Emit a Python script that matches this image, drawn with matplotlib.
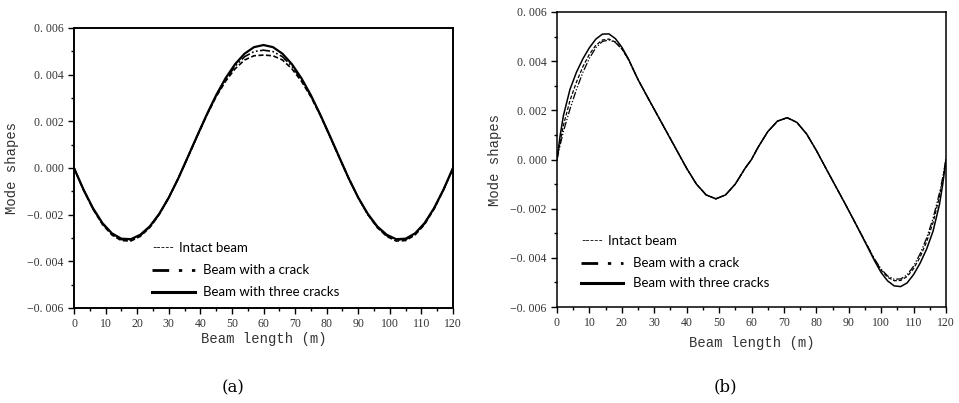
import matplotlib
matplotlib.use('Agg')
import matplotlib.pyplot as plt
from matplotlib.lines import Line2D
from matplotlib.ticker import MultipleLocator, FixedLocator
import numpy as np

# ---- data (a) ----
x_a = list(range(0, 121, 3))
intact_a = [0, -0.00094, -0.00176, -0.00242, -0.00287, -0.00311, -0.00313, -0.00293, -0.00255, -0.00199,
            -0.00127, -0.00045, 0.00045, 0.00136, 0.00225, 0.00305, 0.00372, 0.00425, 0.00463, 0.00481,
            0.00484, 0.00481, 0.00463, 0.00425, 0.00372, 0.00305, 0.00225, 0.00136, 0.00045, -0.00045,
            -0.00127, -0.00199, -0.00255, -0.00293, -0.00313, -0.00311, -0.00287, -0.00242, -0.00176, -0.00094, 0]
crack1_a = [0, -0.00093, -0.00174, -0.00239, -0.00284, -0.00307, -0.00309, -0.00290, -0.00253, -0.00198,
            -0.00127, -0.00045, 0.00046, 0.00137, 0.00227, 0.00309, 0.00379, 0.00436, 0.00477, 0.00499,
            0.00505, 0.00499, 0.00477, 0.00436, 0.00379, 0.00309, 0.00227, 0.00137, 0.00046, -0.00045,
            -0.00127, -0.00198, -0.00253, -0.00290, -0.00309, -0.00307, -0.00284, -0.00239, -0.00174, -0.00093, 0]
crack3_a = [0, -0.00092, -0.00172, -0.00236, -0.00280, -0.00303, -0.00305, -0.00286, -0.00250, -0.00196,
            -0.00127, -0.00045, 0.00046, 0.00138, 0.00228, 0.00312, 0.00385, 0.00445, 0.00490, 0.00518,
            0.00527, 0.00518, 0.00490, 0.00445, 0.00385, 0.00312, 0.00228, 0.00138, 0.00046, -0.00045,
            -0.00127, -0.00196, -0.00250, -0.00286, -0.00305, -0.00303, -0.00280, -0.00236, -0.00172, -0.00092, 0]

# ---- data (b) ----
x_b = [0, 1, 2, 4, 6, 8, 10, 12, 14, 16, 18, 20, 22, 25, 28, 31, 34, 37, 40, 43, 46, 49, 52, 55, 58, 60,
       62, 65, 68, 71, 74, 77, 80, 83, 86, 89, 92, 95, 98, 100, 102, 104, 106, 108, 110, 112, 114, 116, 118, 119, 120]
crack3_b = [0, 0.00100, 0.00180, 0.00285, 0.00355, 0.00410, 0.00455, 0.00490, 0.00510, 0.00511, 0.00492, 0.00457,
            0.00410, 0.00325, 0.00252, 0.00180, 0.00108, 0.00036, -0.00036, -0.00100, -0.00144, -0.00160,
            -0.00144, -0.00100, -0.00036, 0.0, 0.00049, 0.00113, 0.00156, 0.00170, 0.00151, 0.00104, 0.00037,
            -0.00037, -0.00110, -0.00183, -0.00258, -0.00335, -0.00413, -0.00460, -0.00494, -0.00514, -0.00517,
            -0.00502, -0.00468, -0.00422, -0.00365, -0.00292, -0.00182, -0.00100, 0]
intact_b = [0, 0.00075, 0.00140, 0.00240, 0.00315, 0.00378, 0.00428, 0.00465, 0.00486, 0.00490, 0.00478, 0.00450,
            0.00408, 0.00325, 0.00252, 0.00180, 0.00108, 0.00036, -0.00036, -0.00100, -0.00144, -0.00160,
            -0.00144, -0.00100, -0.00036, 0.0, 0.00049, 0.00113, 0.00156, 0.00170, 0.00151, 0.00104, 0.00037,
            -0.00037, -0.00110, -0.00183, -0.00258, -0.00333, -0.00408, -0.00450, -0.00479, -0.00493, -0.00492,
            -0.00476, -0.00444, -0.00397, -0.00335, -0.00257, -0.00150, -0.00080, 0]
crack1_b = [0, 0.00060, 0.00115, 0.00205, 0.00285, 0.00355, 0.00412, 0.00455, 0.00480, 0.00486, 0.00476, 0.00450,
            0.00408, 0.00325, 0.00252, 0.00180, 0.00108, 0.00036, -0.00036, -0.00100, -0.00144, -0.00160,
            -0.00144, -0.00100, -0.00036, 0.0, 0.00049, 0.00113, 0.00156, 0.00170, 0.00151, 0.00104, 0.00037,
            -0.00037, -0.00110, -0.00183, -0.00258, -0.00332, -0.00406, -0.00446, -0.00474, -0.00487, -0.00486,
            -0.00469, -0.00434, -0.00384, -0.00320, -0.00240, -0.00135, -0.00072, 0]

ytick_vals = [-0.006, -0.004, -0.002, 0.0, 0.002, 0.004, 0.006]
ytick_labels = ['\u22120. 006', '\u22120. 004', '\u22120. 002', '0. 000', '0. 002', '0. 004', '0. 006']
xtick_vals = list(range(0, 121, 10))
legend_labels = ['Intact beam', 'Beam with a crack', 'Beam with three cracks']

W, H = 959, 403
fig = plt.figure(figsize=(W / 100, H / 100), dpi=100)
fig.patch.set_facecolor('white')

tickfont = {'family': 'Liberation Serif', 'size': 8.5}
labelfont = {'family': 'Liberation Mono', 'size': 10}
legfont = {'family': 'Lato', 'size': 9.5}


def box(l, t, r, b):
    return [l / W, (H - b) / H, (r - l) / W, (b - t) / H]


def setup(ax, lw, xpad):
    ax.set_xlim(0, 120)
    ax.set_ylim(-0.006, 0.006)
    ax.xaxis.set_major_locator(FixedLocator(xtick_vals))
    ax.xaxis.set_minor_locator(MultipleLocator(5))
    ax.yaxis.set_major_locator(FixedLocator(ytick_vals))
    ax.yaxis.set_minor_locator(MultipleLocator(0.001))
    ax.set_xticklabels([str(v) for v in xtick_vals], fontdict=tickfont, color='#333333')
    ax.set_yticklabels(ytick_labels, fontdict=tickfont, color='#333333')
    ax.tick_params(which='major', direction='out', length=4.5, width=1.0, pad=3)
    ax.tick_params(which='minor', direction='out', length=2.5, width=1.0)
    for s in ax.spines.values():
        s.set_linewidth(lw)
    ax.set_xlabel('Beam length (m)', fontdict=labelfont, color='#333333', labelpad=xpad)
    ax.set_ylabel('Mode shapes', fontdict=labelfont, color='#333333', labelpad=6)


def legend(ax, x0, x1, xt, xi, ys):
    tr = ax.transAxes
    ax.text(x0, ys[0], '-----', transform=tr, va='center', ha='left', family='Lato', size=8.5)
    ax.text(xi, ys[0], legend_labels[0], transform=tr, va='center', ha='left', **legfont)
    ax.add_line(Line2D([x0, x1], [ys[1], ys[1]], transform=tr, color='black', lw=2.0,
                       dashes=(6, 3.5, 1.2, 3.5, 1.2, 3.5)))
    ax.text(xt, ys[1], legend_labels[1], transform=tr, va='center', ha='left', **legfont)
    ax.add_line(Line2D([x0, x1], [ys[2], ys[2]], transform=tr, color='black', lw=2.2))
    ax.text(xt, ys[2], legend_labels[2], transform=tr, va='center', ha='left', **legfont)


# (a)
ax1 = fig.add_axes(box(74, 28, 453, 308))
ax1.plot(x_a, intact_a, color='black', lw=1.2, dashes=(3, 1.5))
ax1.plot(x_a, crack1_a, color='black', lw=1.2, dashes=(6, 1.5, 1, 1.5, 1, 1.5))
ax1.plot(x_a, crack3_a, color='black', lw=1.6)
setup(ax1, 1.4, 1.5)
legend(ax1, 0.206, 0.319, 0.340, 0.278, [0.214, 0.136, 0.057])
fig.text(233 / W, 1 - 388 / H, '(a)', ha='center', va='center', family='DejaVu Serif', size=12)

# (b)
ax2 = fig.add_axes(box(557, 12, 946, 307))
ax2.plot(x_b, intact_b, color='black', lw=0.9, dashes=(3, 1.5))
ax2.plot(x_b, crack1_b, color='black', lw=0.9, dashes=(6, 1.5, 1, 1.5, 1, 1.5))
ax2.plot(x_b, crack3_b, color='black', lw=1.1)
setup(ax2, 1.1, 5)
legend(ax2, 0.062, 0.170, 0.195, 0.131, [0.224, 0.149, 0.081])
fig.text(725 / W, 1 - 387 / H, '(b)', ha='center', va='center', family='DejaVu Serif', size=12)

fig.savefig('out.png', dpi=100, facecolor='white')
